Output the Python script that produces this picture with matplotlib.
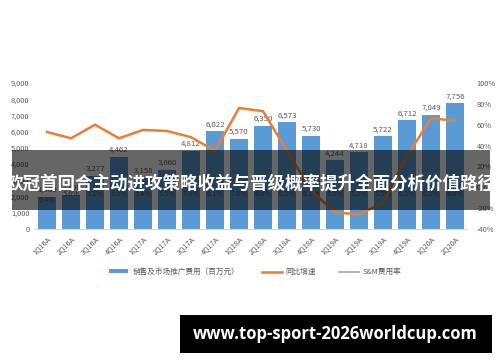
import matplotlib
matplotlib.use("Agg")
import matplotlib.pyplot as plt
from matplotlib.patches import Rectangle
from matplotlib.lines import Line2D
from matplotlib.patches import Patch
import numpy as np

plt.rcParams['font.family'] = ['Noto Sans CJK SC', 'DejaVu Sans']

categories = ['1Q16A', '2Q16A', '3Q16A', '4Q16A', '1Q17A', '2Q17A', '3Q17A', '4Q17A', '1Q18A',
              '2Q18A', '3Q18A', '4Q18A', '1Q19A', '2Q19A', '3Q19A', '4Q19A', '1Q20A', '2Q20A']
sales_expense = [1980, 2100, 3277, 4462, 3158, 3660, 4812, 6022, 5570,
                 6350, 6573, 5730, 4244, 4718, 5722, 6712, 7049, 7756]
yoy_growth = [53, 47, 60, 47, 55, 54, 48, 35, 76,
              73, 35, -3, -24, -26, -15, 30, 66, 64]
sm_rate = [6.4, 5.6, 5.1, 5.8, 5.4, 5.5, 7.4, 6.1, 7.6,
           6.0, 6.3, 6.1, 5.0, 5.3, 5.5, 6.3, 6.3, 6.8]
left_ticks = [0, 1000, 2000, 3000, 4000, 5000, 6000, 7000, 8000, 9000]
right_ticks = [-40, -20, 0, 20, 40, 60, 80, 100]

title = '欧冠首回合主动进攻策略收益与晋级概率提升全面分析价值路径'
watermark = 'www.top-sport-2026worldcup.com'

W, H = 500, 362
fig = plt.figure(figsize=(W / 100, H / 100), dpi=100)
fig.patch.set_facecolor('white')

ax = fig.add_axes([35 / W, 1 - 229 / H, 432 / W, 146 / H])
x = np.arange(len(categories))
blue = '#5B9BD5'
orange = '#ED7D31'
grey_txt = '#595959'

ax.bar(x, sales_expense, width=0.74, color=blue, zorder=2)
ax.set_xlim(-0.5, len(categories) - 0.5)
ax.set_ylim(0, 9000)
ax.set_yticks(left_ticks)
ax.set_yticklabels([f'{v:,}' for v in left_ticks], fontsize=5.3, color=grey_txt)
ax.set_xticks(x)
ax.set_xticklabels(categories, rotation=45, ha='right', rotation_mode='anchor',
                   fontsize=5.3, color=grey_txt)
ax.tick_params(axis='both', length=0, pad=4)
for s in ['top', 'right', 'left']:
    ax.spines[s].set_visible(False)
ax.spines['bottom'].set_color('#D9D9D9')
ax.spines['bottom'].set_linewidth(0.8)

for xi, v in zip(x, sales_expense):
    ax.text(xi, v + 180, f'{v:,}', ha='center', va='bottom', fontsize=5.6, color=grey_txt, zorder=3)

for i, (xi, r) in enumerate(zip(x, sm_rate)):
    yy = 1800 if i == 0 else 2150
    ax.text(xi, yy, f'{r:.1f}%', ha='center', va='center', fontsize=5.3, color=grey_txt, zorder=3)

ax2 = ax.twinx()
ax2.plot(x, yoy_growth, color=orange, linewidth=1.8, zorder=4)
ax2.set_ylim(-40, 100)
ax2.set_yticks(right_ticks)
ax2.set_yticklabels([f'{v}%' for v in right_ticks], fontsize=5.3, color=grey_txt)
ax2.tick_params(axis='y', length=0, pad=7)
for s in ['top', 'right', 'left', 'bottom']:
    ax2.spines[s].set_visible(False)

handles = [Patch(facecolor=blue, edgecolor='none'),
           Line2D([0], [0], color=orange, linewidth=1.8),
           Line2D([0], [0], color='#A5A5A5', linewidth=1.2)]
labels = ['销售及市场推广费用（百万元）', '同比增速', 'S&M费用率']
fig.legend(handles, labels, loc='center', bbox_to_anchor=(255 / W, 1 - 272 / H),
           ncol=3, frameon=False, fontsize=5.5, handlelength=2.6, handleheight=0.5,
           columnspacing=3.0, handletextpad=0.5, labelcolor=grey_txt)

# dark translucent overlay band with title
fig.patches.append(Rectangle((12 / W, 1 - 210 / H), 478 / W, 60 / H, transform=fig.transFigure,
                             facecolor='black', alpha=0.6, edgecolor='none', zorder=10))
fig.text(251 / W, 1 - 184 / H, title, ha='center', va='center', fontsize=12.6,
         fontweight='bold', color='white', zorder=11)

# watermark box
fig.patches.append(Rectangle((180 / W, 1 - 353 / H), 312 / W, 38 / H, transform=fig.transFigure,
                             facecolor='black', edgecolor='none', zorder=10))
fig.text(335 / W, 1 - 334 / H, watermark, ha='center', va='center', fontsize=12,
         fontweight='bold', color='white', family=['Open Sans', 'DejaVu Sans'], zorder=11)

fig.savefig('out.png', dpi=100, facecolor='white')
